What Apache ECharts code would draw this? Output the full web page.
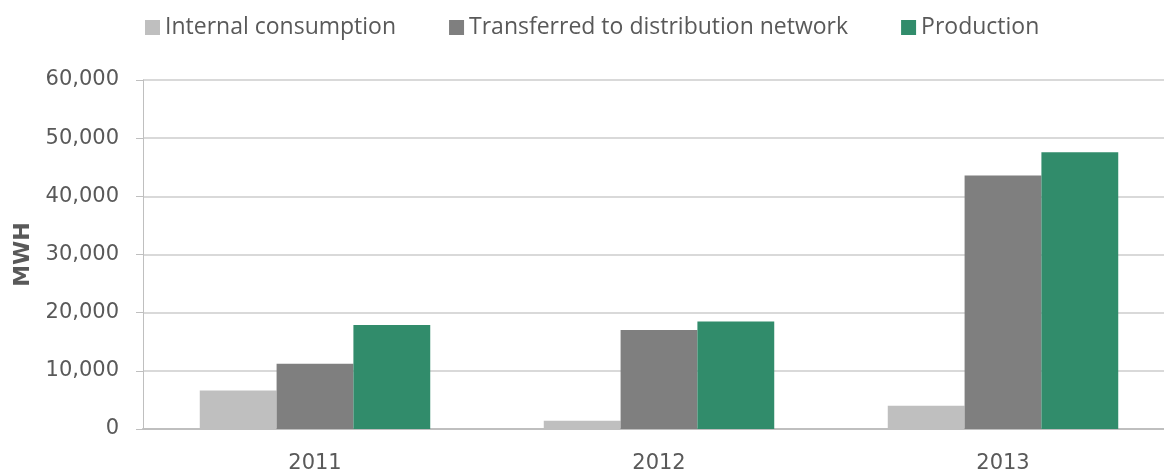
<!DOCTYPE html>
<html>
<head>
<meta charset="utf-8">
<script src="https://cdn.jsdelivr.net/npm/echarts@6/dist/echarts.min.js"></script>
<style>
	html, body { margin: 0; padding: 0; background: #fff; overflow: hidden; }
	#chart { width: 1175px; height: 474px; }
</style>
</head>
<body>
<div id="chart"></div>
<script type="text/javascript">
	var years = ['2011', '2012', '2013'];
	var internalConsumption = [6600, 1400, 4000];
	var transferred = [11200, 17000, 43600];
	var production = [17900, 18500, 47600];

	var legendFont = '"Open Sans", "Noto Sans", sans-serif';
	var numberFont = '"DejaVu Sans", "Open Sans", sans-serif';
	var textColor = '#595959';

	var myChart = echarts.init(document.getElementById('chart'));
	var option = {
		animation: false,
		textStyle: { fontFamily: numberFont },
		legend: {
			top: 11,
			left: 140,
			itemWidth: 15,
			itemHeight: 15,
			itemGap: 53,
			icon: 'rect',
			textStyle: { fontSize: 23, color: textColor, fontFamily: legendFont },
			data: ['Internal consumption', 'Transferred to distribution network', 'Production']
		},
		grid: {
			left: 143,
			right: 0,
			top: 80,
			bottom: 44
		},
		xAxis: {
			type: 'category',
			data: years,
			axisLine: { lineStyle: { color: '#bfbfbf', width: 2 } },
			axisTick: { show: false },
			axisLabel: { fontSize: 21, color: textColor, margin: 24, fontFamily: numberFont }
		},
		yAxis: {
			type: 'value',
			min: 0,
			max: 60000,
			interval: 10000,
			name: 'MWH',
			nameLocation: 'middle',
			nameGap: 108,
			nameTextStyle: { fontSize: 22, fontWeight: 'bold', color: textColor, fontFamily: numberFont },
			axisLine: { show: true, lineStyle: { color: '#bfbfbf', width: 1 } },
			axisTick: { show: true, length: 7, lineStyle: { color: '#bfbfbf' } },
			splitLine: { lineStyle: { color: '#d9d9d9', width: 2 } },
			axisLabel: {
				fontSize: 21, color: textColor, margin: 24, fontFamily: numberFont,
				formatter: function (v) { return v.toLocaleString('en-US'); }
			}
		},
		series: [
			{
				name: 'Internal consumption',
				type: 'bar',
				data: internalConsumption,
				barGap: '0%',
				barCategoryGap: '33%',
				itemStyle: { color: '#bfbfbf' }
			},
			{
				name: 'Transferred to distribution network',
				type: 'bar',
				data: transferred,
				itemStyle: { color: '#7f7f7f' }
			},
			{
				name: 'Production',
				type: 'bar',
				data: production,
				itemStyle: { color: '#318c6b' }
			}
		]
	};
	myChart.setOption(option);
</script>
</body>
</html>
